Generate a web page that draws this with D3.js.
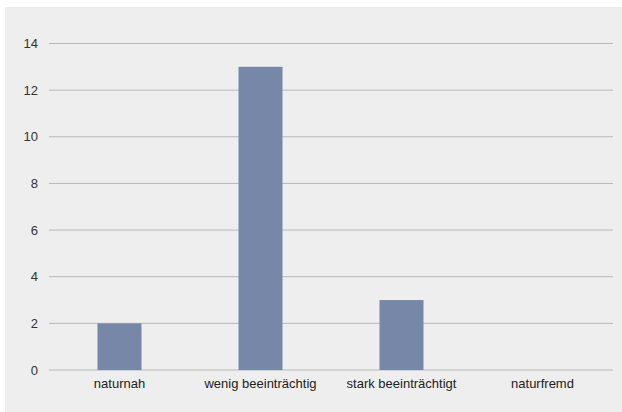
<!DOCTYPE html>
<html>
<head>
<meta charset="utf-8">
<script src="https://cdn.jsdelivr.net/npm/d3@7"></script>
<style>
  body { margin: 0; background: #fff; }
  text { font-family: "Liberation Sans", Arial, sans-serif; }
</style>
</head>
<body>
<div class="box"></div>
<script>
// DATA
const categories = ['naturnah', 'wenig beeinträchtig', 'stark beeinträchtigt', 'naturfremd'];
const values = [2, 13, 3, 0];
const yTicks = [0, 2, 4, 6, 8, 10, 12, 14];

const width = 622, height = 412;

const svg = d3.select('.box').append('svg')
              .attr('width', width)
              .attr('height', height);

// paper background
svg.append('rect')
   .attr('x', 5).attr('y', 7)
   .attr('width', width - 5).attr('height', height - 7)
   .attr('fill', '#eeeeee');

const x = d3.scaleBand()
            .domain(categories)
            .range([49, 613]);

const y = d3.scaleLinear()
            .domain([0, 14])
            .range([370, 43.5]);

// gridlines
svg.append('g')
   .selectAll('line')
   .data(yTicks)
   .join('line')
   .attr('x1', 49)
   .attr('x2', 613)
   .attr('y1', d => y(d))
   .attr('y2', d => y(d))
   .attr('stroke', '#b8b8b8')
   .attr('stroke-width', 1);

// y axis labels
const yAxis = svg.append('g')
                 .attr('transform', 'translate(38,0)')
                 .call(d3.axisLeft(y).tickValues(yTicks).tickSize(0).tickPadding(0));
yAxis.select('.domain').remove();
yAxis.selectAll('text')
     .attr('font-size', 13)
     .attr('fill', '#333');

// bars
const barW = 44;
svg.append('g')
   .selectAll('rect')
   .data(values)
   .join('rect')
   .attr('x', (d, i) => x(categories[i]) + x.bandwidth() / 2 - barW / 2)
   .attr('y', d => y(d))
   .attr('width', barW)
   .attr('height', d => y(0) - y(d))
   .attr('fill', '#7787a8');

// x axis labels
const xAxis = svg.append('g')
                 .attr('transform', 'translate(0,379)')
                 .call(d3.axisBottom(x).tickSize(0).tickPadding(0));
xAxis.select('.domain').remove();
xAxis.selectAll('text')
     .attr('font-size', 13)
     .attr('fill', '#222');
</script>
</body>
</html>
